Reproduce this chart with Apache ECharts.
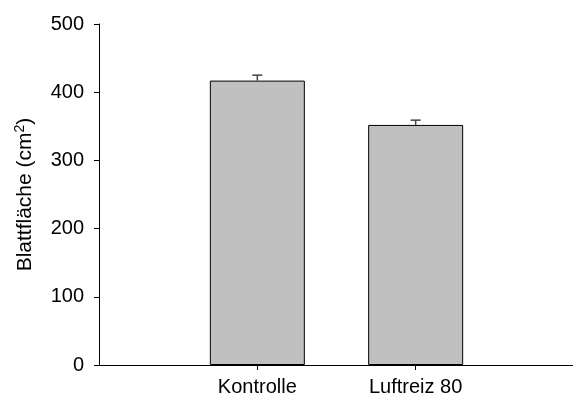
<!DOCTYPE html>
<html>
<head>
<meta charset="utf-8">
<script src="https://cdn.jsdelivr.net/npm/echarts@6/dist/echarts.min.js"></script>
<style>html,body{margin:0;padding:0;background:#fff}#c{width:573px;height:401px}</style>
</head>
<body>
<div id="c"></div>
<script>
var categories = ['', 'Kontrolle', 'Luftreiz 80', ''];
var means = [null, 417, 352, null];
var errors = [null, 8, 7, null];
var yTicks = [0, 100, 200, 300, 400, 500];

var chart = echarts.init(document.getElementById('c'), null, {renderer: 'canvas'});
var font = 'Liberation Sans, Arial, sans-serif';
var errData = [];
for (var i = 0; i < categories.length; i++) {
  if (means[i] != null) errData.push([i, means[i], means[i] + errors[i]]);
}
chart.setOption({
  animation: false,
  grid: {left: 99, right: -1, top: 24, bottom: 36, containLabel: false, outerBoundsMode: 'none'},
  xAxis: {
    type: 'category',
    data: categories,
    boundaryGap: false,
    axisLine: {lineStyle: {color: '#000', width: 1}},
    axisTick: {length: 5, lineStyle: {color: '#000'}, interval: function (idx) { return idx === 1 || idx === 2; }},
    axisLabel: {color: '#000', fontSize: 20, fontFamily: font, margin: 12, interval: 0},
    splitLine: {show: false}
  },
  yAxis: {
    type: 'value',
    min: yTicks[0], max: yTicks[yTicks.length - 1], interval: 100,
    name: 'Blattfläche (cm{sup|2})',
    nameLocation: 'middle',
    nameGap: 62,
    nameTextStyle: {color: '#000', fontSize: 21, fontFamily: font,
      rich: {sup: {fontSize: 14, fontFamily: font, color: '#000', padding: [0, 0, 10, 0]}}},
    axisLine: {show: true, lineStyle: {color: '#000', width: 1}},
    axisTick: {show: true, length: 5, lineStyle: {color: '#000'}},
    axisLabel: {color: '#000', fontSize: 20, fontFamily: font, margin: 15},
    splitLine: {show: false}
  },
  series: [
    {
      type: 'bar',
      data: means,
      barWidth: 95,
      itemStyle: {color: '#c0c0c0', borderColor: '#000', borderWidth: 1}
    },
    {
      type: 'custom',
      data: errData,
      z: 5,
      renderItem: function (params, api) {
        var x = api.value(0);
        var base = api.coord([x, api.value(1)]);
        var top = api.coord([x, api.value(2)]);
        var hw = 5;
        var st = {stroke: '#444', lineWidth: 1.5};
        return {type: 'group', children: [
          {type: 'line', shape: {x1: base[0], y1: base[1], x2: top[0], y2: top[1]}, style: st},
          {type: 'line', shape: {x1: top[0] - hw, y1: top[1], x2: top[0] + hw, y2: top[1]}, style: st}
        ]};
      }
    }
  ]
});
</script>
</body>
</html>
